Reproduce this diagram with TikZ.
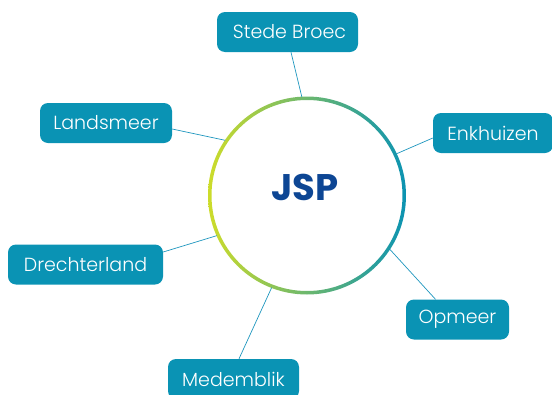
\documentclass[tikz,border=0pt]{standalone}
\usepackage{fontspec}
\setmainfont{Poppins}
\newfontfamily\townfont{Poppins Light}
\usetikzlibrary{calc}

\definecolor{boxteal}{HTML}{0A93B4}
\definecolor{linkteal}{HTML}{1E96BE}
\definecolor{ringlime}{HTML}{CDDC2A}
\definecolor{ringteal}{HTML}{0B93B2}
\definecolor{jspblue}{HTML}{0D4694}

\begin{document}
\begin{tikzpicture}[x=1pt,y=-1pt,
    town/.style={fill=boxteal, text=white, rounded corners=8pt, minimum height=40pt,
      inner sep=0pt, font=\townfont\fontsize{19}{21}\selectfont},
    link/.style={draw=linkteal, line width=0.7pt}]
  \useasboundingbox (0,0) rectangle (552,394);

  % ring with the colour running from lime to teal
  \coordinate (O) at (307,195.5);
  \shade[left color=ringlime, right color=ringteal, even odd rule]
    (O) circle (99pt) (O) circle (95.5pt);
  \node[circle, minimum size=197pt, inner sep=0pt] (hub) at (O) {};
  \node[text=jspblue, font=\fontsize{37}{40}\bfseries\selectfont] (jsp) at (305,187) {JSP};

  % the six towns
  \node[town, minimum width=141pt] (sb) at (287.5,32) {\hspace{4pt}Stede Broec};
  \node[town, minimum width=132pt] (lm) at (106,123) {Landsmeer\hspace{8pt}};
  \node[town, minimum width=120pt] (ek) at (493,133) {Enkhuizen};
  \node[town, minimum width=155pt] (dr) at (85.5,264.5) {Drechterland};
  \node[town, minimum width=103pt] (op) at (457.5,319.5) {Opmeer};
  \node[town, minimum width=131pt] (md) at (233.5,379) {Medemblik\hspace{6pt}};

  % connectors
  \draw[link] ([xshift=3.5pt]sb.south) -- (hub.93);
  \draw[link] ([yshift=-6pt]lm.east) -- (hub.146);
  \draw[link] ([yshift=-5pt]ek.west) -- (hub.25);
  \draw[link] ([yshift=12.5pt]dr.east) -- (hub.204);
  \draw[link] ([xshift=-22pt]op.north) -- (hub.327);
  \draw[link] ([xshift=5.5pt]md.north) -- (hub.249);
\end{tikzpicture}
\end{document}
